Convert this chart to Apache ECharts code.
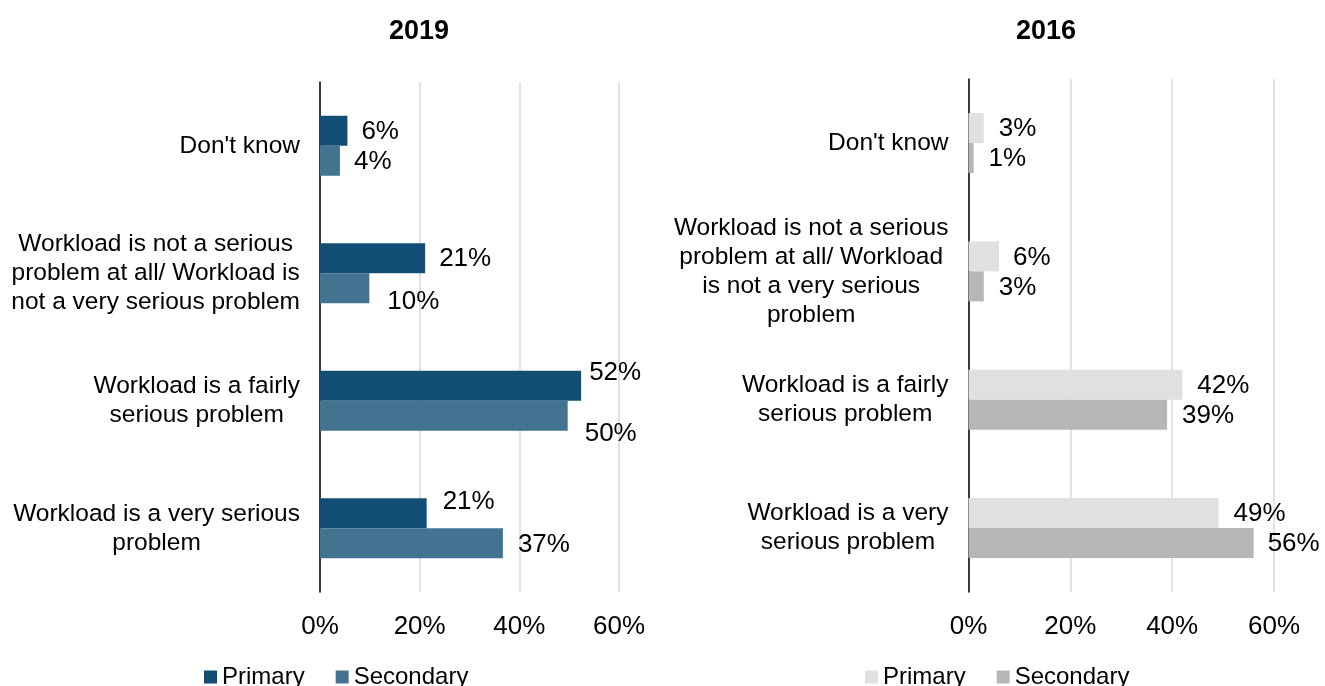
<!DOCTYPE html>
<html>
<head>
<meta charset="utf-8">
<script src="https://cdn.jsdelivr.net/npm/echarts@6/dist/echarts.min.js"></script>
<style>
html, body { margin: 0; padding: 0; background: #fff; }
#wrap { position: relative; width: 1325px; height: 686px; overflow: hidden; }
#left { position: absolute; left: 0; top: 0; width: 662px; height: 686px; }
#right { position: absolute; left: 662px; top: 0; width: 663px; height: 686px; }
</style>
</head>
<body>
<div id="wrap"><div id="left"></div><div id="right"></div></div>
<script>
// data
var seriesNames = ['Primary', 'Secondary'];
var cats2019 = [
	"Don't know",
	'Workload is not a serious\nproblem at all/ Workload is\nnot a very serious problem',
	'Workload is a fairly\nserious problem',
	'Workload is a very serious\nproblem'
];
var cats2016 = [
	"Don't know",
	'Workload is not a serious\nproblem at all/ Workload\nis not a very serious\nproblem',
	'Workload is a fairly\nserious problem',
	'Workload is a very\nserious problem'
];
var primary2019 = [5.5, 21.1, 52.4, 21.4];
var secondary2019 = [4.0, 9.9, 49.7, 36.7];
var primary2016 = [3.0, 6.0, 42.0, 49.1];
var secondary2016 = [1.0, 3.0, 39.0, 56.0];
var xTicks = [0, 20, 40, 60];

var FONT = 'Liberation Sans';

// each line as a centred rich token, block stays right-aligned to the axis
function catLabel(value) {
	return value.split('\n').map(function(line) {
		return '{c|' + line + '}';
	}).join('\n');
}

function barData(values, offsets) {
	return values.map(function(v, i) {
		return { value: v, label: { offset: offsets[i] } };
	});
}

function barSeries(name, values, offsets, color) {
	return {
		name: name,
		type: 'bar',
		barWidth: 30,
		barGap: '0%',
		data: barData(values, offsets),
		itemStyle: { color: color },
		label: {
			show: true,
			position: 'right',
			distance: 14,
			fontSize: 26,
			fontFamily: FONT,
			color: '#000',
			formatter: function(p) { return Math.round(p.value) + '%'; }
		}
	};
}

function initChart(domId, opts) {
	var myChart = echarts.init(document.getElementById(domId));
	var option = {
		animation: false,
		textStyle: { fontFamily: FONT },
		title: {
			text: opts.title,
			left: opts.titleX,
			top: 13,
			textAlign: 'center',
			textStyle: { fontSize: 27, fontWeight: 'bold', color: '#000', fontFamily: FONT }
		},
		legend: {
			data: seriesNames,
			left: opts.legendX,
			top: 660,
			icon: 'rect',
			itemWidth: 13,
			itemHeight: 13,
			itemGap: 31,
			textStyle: { fontSize: 24, color: '#000', fontFamily: FONT }
		},
		grid: {
			left: opts.grid[0],
			top: opts.grid[1],
			width: opts.grid[2],
			height: opts.grid[3],
			outerBoundsMode: 'none'
		},
		xAxis: {
			type: 'value',
			min: xTicks[0],
			max: xTicks[xTicks.length - 1],
			interval: xTicks[1] - xTicks[0],
			axisLine: { show: false },
			axisTick: { show: false },
			splitLine: { show: true, lineStyle: { color: '#d9d9d9', width: 1.5 } },
			axisLabel: { formatter: '{value}%', fontSize: 26, color: '#000', margin: 22, fontFamily: FONT }
		},
		yAxis: {
			type: 'category',
			inverse: true,
			data: opts.cats,
			axisLine: { show: true, lineStyle: { color: '#000', width: 1.5 } },
			axisTick: { show: false },
			axisLabel: {
				interval: 0,
				align: 'right',
				margin: 20,
				formatter: catLabel,
				rich: {
					c: {
						align: 'center',
						fontSize: 24.5,
						lineHeight: 29,
						color: '#000',
						fontFamily: FONT
					}
				}
			}
		},
		series: [
			barSeries(seriesNames[0], opts.primary, opts.offsets[0], opts.colors[0]),
			barSeries(seriesNames[1], opts.secondary, opts.offsets[1], opts.colors[1])
		]
	};
	myChart.setOption(option);
}

initChart('left', {
	title: '2019',
	titleX: 414,
	legendX: 199,
	grid: [320, 82, 299, 510],
	cats: cats2019,
	primary: primary2019,
	secondary: secondary2019,
	colors: ['#124e73', '#427391'],
	offsets: [
		[[0, 1], [0, 1], [-6, -13], [2, -11]],
		[[0, 1], [4, 14], [3, 18], [1, 2]]
	]
});

initChart('right', {
	title: '2016',
	titleX: 379,
	legendX: 198,
	grid: [306.5, 79, 305.5, 513],
	cats: cats2016,
	primary: primary2016,
	secondary: secondary2016,
	colors: ['#e0e0e0', '#b6b6b6'],
	offsets: [
		[[1, 1], [0, 1], [1, 1], [1, 1]],
		[[1, 1], [1, 1], [1, 1], [0, 1]]
	]
});
</script>
</body>
</html>
